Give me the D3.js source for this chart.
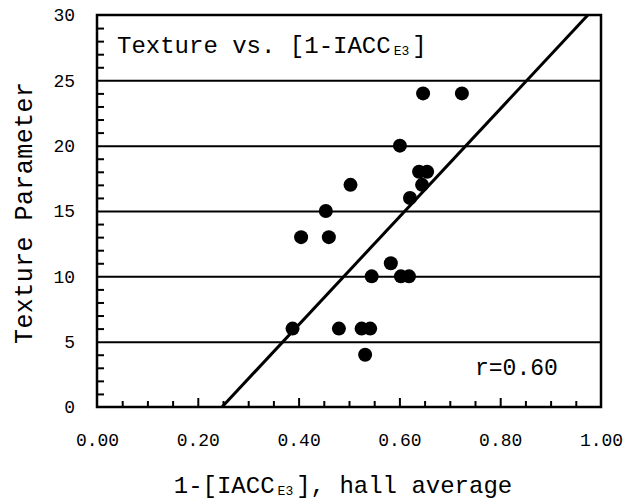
<!DOCTYPE html>
<html>
<head>
<meta charset="utf-8">
<script src="https://cdn.jsdelivr.net/npm/d3@7"></script>
<style>
  html, body { margin: 0; padding: 0; background: #fff; }
  svg { display: block; }
  text { font-family: "Liberation Mono", "DejaVu Sans Mono", monospace; fill: #000; }
</style>
</head>
<body>
<svg id="chart" width="626" height="504"></svg>
<script>
// ---- data ----
const xValues = [0.647, 0.724, 0.601, 0.639, 0.655, 0.645, 0.503, 0.621, 0.454, 0.405, 0.460, 0.583, 0.545, 0.603, 0.619, 0.388, 0.480, 0.525, 0.542, 0.532];
const yValues = [24, 24, 20, 18, 18, 17, 17, 16, 15, 13, 13, 11, 10, 10, 10, 6, 6, 6, 6, 4];
const fitX = [0.248, 0.974];   // regression line end points (x)
const fitY = [0, 30];          // regression line end points (y)
const xTickLabels = [0, 0.2, 0.4, 0.6, 0.8, 1.0];
const yTickLabels = [0, 5, 10, 15, 20, 25, 30];
const yGrid = [5, 10, 15, 20, 25];
const xMinorTicks = d3.range(0.05, 1.0, 0.05);
const yMinorTicks = d3.range(1, 30, 1);
const rText = "r=0.60";

// ---- layout ----
const svg = d3.select("#chart");
const L = 97, R = 601, T = 15, B = 407;

const x = d3.scaleLinear().domain([0, 1]).range([L, R]);
const y = d3.scaleLinear().domain([0, 30]).range([B, T]);

// gridlines
svg.append("g")
  .attr("transform", `translate(${L},0)`)
  .call(d3.axisLeft(y).tickValues(yGrid).tickSize(-(R - L)).tickFormat(""))
  .call(g => g.select(".domain").remove())
  .call(g => g.selectAll("line").attr("stroke", "#000").attr("stroke-width", 2));

// y minor ticks (inside)
svg.append("g")
  .attr("transform", `translate(${L},0)`)
  .call(d3.axisRight(y).tickValues(yMinorTicks.filter(v => v % 5 !== 0)).tickSize(7).tickFormat(""))
  .call(g => g.select(".domain").remove())
  .call(g => g.selectAll("line").attr("stroke", "#000").attr("stroke-width", 2));

// x ticks (inside, pointing up)
const majorX = xMinorTicks.filter(v => Math.abs(v * 5 - Math.round(v * 5)) < 1e-6);
const minorX = xMinorTicks.filter(v => Math.abs(v * 5 - Math.round(v * 5)) >= 1e-6);
svg.append("g")
  .attr("transform", `translate(0,${B})`)
  .call(d3.axisTop(x).tickValues(minorX).tickSize(6).tickFormat(""))
  .call(g => g.select(".domain").remove())
  .call(g => g.selectAll("line").attr("stroke", "#000").attr("stroke-width", 2));
svg.append("g")
  .attr("transform", `translate(0,${B})`)
  .call(d3.axisTop(x).tickValues(majorX).tickSize(9).tickFormat(""))
  .call(g => g.select(".domain").remove())
  .call(g => g.selectAll("line").attr("stroke", "#000").attr("stroke-width", 2));

// y tick labels
svg.append("g")
  .attr("transform", `translate(${L},0)`)
  .call(d3.axisLeft(y).tickValues(yTickLabels).tickSize(0).tickPadding(22).tickFormat(d3.format("d")))
  .call(g => g.select(".domain").remove())
  .call(g => g.selectAll("text").attr("font-family", "Liberation Mono, monospace").attr("font-size", 18).attr("fill", "#000"));

// x tick labels
svg.append("g")
  .attr("transform", `translate(0,${B})`)
  .call(d3.axisBottom(x).tickValues(xTickLabels).tickSize(0).tickPadding(26).tickFormat(d3.format(".2f")))
  .call(g => g.select(".domain").remove())
  .call(g => g.selectAll("text").attr("font-family", "Liberation Mono, monospace").attr("font-size", 18).attr("fill", "#000"));

// clip for regression line
svg.append("clipPath").attr("id", "plotclip")
  .append("rect").attr("x", L).attr("y", T).attr("width", R - L).attr("height", B - T);

// regression line
const fitData = fitX.map((v, i) => [v, fitY[i]]);
svg.append("path")
  .datum(fitData)
  .attr("clip-path", "url(#plotclip)")
  .attr("fill", "none")
  .attr("stroke", "#000")
  .attr("stroke-width", 3)
  .attr("d", d3.line().x(d => x(d[0])).y(d => y(d[1])));

// points
svg.append("g")
  .selectAll("ellipse")
  .data(xValues.map((v, i) => [v, yValues[i]]))
  .join("ellipse")
  .attr("cx", d => x(d[0]))
  .attr("cy", d => y(d[1]))
  .attr("rx", 7)
  .attr("ry", 7)
  .attr("fill", "#000");

// frame
svg.append("rect")
  .attr("x", L).attr("y", T).attr("width", R - L).attr("height", B - T)
  .attr("fill", "none").attr("stroke", "#000").attr("stroke-width", 2.5);

// title inside
const title = svg.append("text").attr("x", 117).attr("y", 53).attr("font-size", 24);
title.append("tspan").text("Texture vs. [1-IACC");
title.append("tspan").attr("font-size", 13).attr("dy", 2).attr("dx", 3).text("E3");
title.append("tspan").attr("dy", -2).attr("dx", 3).text("]");

// r label
svg.append("text").attr("x", 475).attr("y", 375).attr("font-size", 23).text(rText);

// y axis title
svg.append("text")
  .attr("transform", `translate(32,${(T + B) / 2 + 2}) rotate(-90)`)
  .attr("text-anchor", "middle")
  .attr("font-size", 25)
  .attr("textLength", 262)
  .attr("lengthAdjust", "spacing")
  .text("Texture Parameter");

// x axis title
const xt = svg.append("text").attr("x", 343).attr("y", 493).attr("text-anchor", "middle").attr("font-size", 24);
xt.append("tspan").text("1-[IACC");
xt.append("tspan").attr("font-size", 13).attr("dy", 2).attr("dx", 3).text("E3");
xt.append("tspan").attr("dy", -2).attr("dx", 3).text("], hall average");
</script>
</body>
</html>
